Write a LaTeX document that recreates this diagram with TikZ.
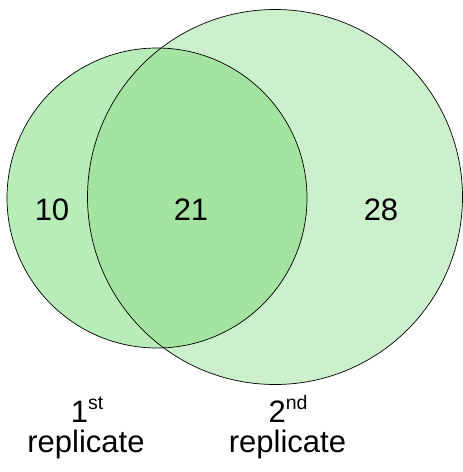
\documentclass[tikz,border=0pt]{standalone}
\usepackage{fontspec}
\setmainfont{Liberation Sans}
\definecolor{leftonly}{HTML}{B8ECB8}
\definecolor{rightonly}{HTML}{CCF0CC}
\definecolor{overlap}{HTML}{A4E4A0}
\tikzset{
  numlabel/.style={anchor=base, inner sep=0pt, font=\fontsize{31}{31}\selectfont},
  setlabel/.style={anchor=base, inner sep=0pt, font=\fontsize{31}{31}\selectfont},
  outline/.style={draw=black, line width=0.7pt}
}
\newcommand{\supscr}[1]{\raisebox{12.5pt}{\fontsize{19.5}{19.5}\selectfont #1}}
\begin{document}
\begin{tikzpicture}[x=1pt,y=-1pt]
\useasboundingbox (0,0) rectangle (463,472);
\coordinate (cl) at (157,198);
\coordinate (cr) at (275,197);
\fill[rightonly] (cr) circle[radius=187.5];
\fill[leftonly] (cl) circle[radius=150];
\begin{scope}
  \clip (cr) circle[radius=187.5];
  \fill[overlap] (cl) circle[radius=150];
\end{scope}
\draw[outline] (cr) circle[radius=187.5];
\draw[outline] (cl) circle[radius=150];
\node[numlabel] (n10) at (52,220) {10};
\node[numlabel] (n21) at (191,220) {21};
\node[numlabel] (n28) at (381,220) {28};
\node[setlabel] (l1a) at (87,422) {1\supscr{st}};
\node[setlabel] (l1b) at (86,452) {replicate};
\node[setlabel] (l2a) at (288,422) {2\supscr{nd}};
\node[setlabel] (l2b) at (287.5,452) {replicate};
\end{tikzpicture}
\end{document}
